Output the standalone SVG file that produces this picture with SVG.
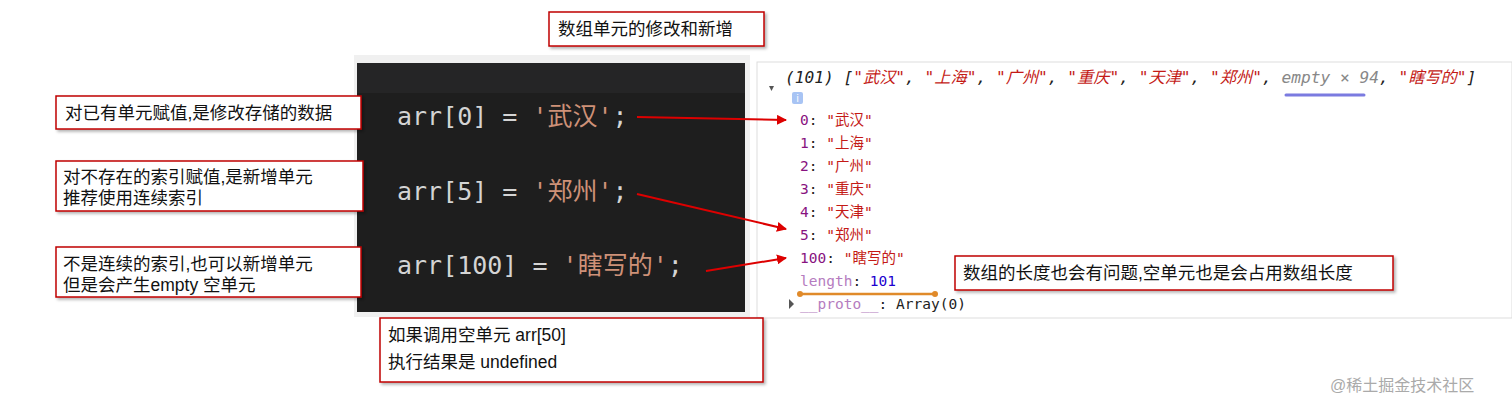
<svg xmlns="http://www.w3.org/2000/svg" width="1512" height="410" viewBox="0 0 1512 410">
<defs>
<style>
.box{fill:#fff;stroke:#c00000;stroke-width:1.5;filter:url(#sh)}
.t{font-family:"Liberation Sans","Noto Sans CJK SC",sans-serif;font-size:17.5px;fill:#111}
.code{font-family:"DejaVu Sans Mono","Noto Sans CJK SC",monospace;font-size:25px;fill:#d4d4d4}
.str{fill:#ce9178}
.con{font-family:"DejaVu Sans Mono","Noto Sans CJK SC",monospace;font-size:14.5px;fill:#222}
.k{fill:#881280}.s{fill:#c41a16}.n{fill:#1c00cf}.g{fill:#888}
.ar{stroke:#d00;stroke-width:2;fill:none;marker-end:url(#ah)}
</style>
<marker id="ah" viewBox="0 0 10 10" refX="9" refY="5" markerWidth="5" markerHeight="5" orient="auto"><path d="M0,0L10,5L0,10z" fill="#d00"/></marker>
<filter id="sh" x="-5%" y="-10%" width="110%" height="130%"><feDropShadow dx="2" dy="2" stdDeviation="1.5" flood-color="#000" flood-opacity="0.3"/></filter>
</defs>
<rect width="1512" height="410" fill="#fff"/>
<g id="code-panel">
<rect x="354" y="55" width="396" height="262" fill="#f0f0f0"/>
<rect x="357" y="63" width="388" height="249" fill="#1e1e1e"/>
<rect x="357" y="63" width="388" height="30" fill="#252526"/>
<text class="code" x="397" y="125">arr[0] = <tspan class="str">'武汉'</tspan>;</text>
<text class="code" x="397" y="200">arr[5] = <tspan class="str">'郑州'</tspan>;</text>
<text class="code" x="397" y="274">arr[100] = <tspan class="str">'瞎写的'</tspan>;</text>
</g>
<g id="console">
<rect x="757" y="62" width="755" height="256" fill="#fff" stroke="#ddd"/>
<path d="M769,86l5,0l-2.5,5z" fill="#555"/>
<text class="con" x="785" y="83" style="font-size:16.2px;font-style:italic">(101) [<tspan class="s">"武汉"</tspan>, <tspan class="s">"上海"</tspan>, <tspan class="s">"广州"</tspan>, <tspan class="s">"重庆"</tspan>, <tspan class="s">"天津"</tspan>, <tspan class="s">"郑州"</tspan>, <tspan class="g">empty × 94</tspan>, <tspan class="s">"瞎写的"</tspan>]</text>
<line x1="1286" y1="95" x2="1364" y2="95" stroke="#7b7be0" stroke-width="3" stroke-linecap="round"/>
<rect x="792" y="92" width="11" height="12" rx="2" fill="#a8c4f4"/>
<text x="797.5" y="102" font-family="Liberation Sans,sans-serif" font-size="10" fill="#fff" text-anchor="middle">i</text>
<text class="con" x="800" y="125"><tspan class="k">0</tspan>: <tspan class="s">"武汉"</tspan></text>
<text class="con" x="800" y="148"><tspan class="k">1</tspan>: <tspan class="s">"上海"</tspan></text>
<text class="con" x="800" y="171"><tspan class="k">2</tspan>: <tspan class="s">"广州"</tspan></text>
<text class="con" x="800" y="194"><tspan class="k">3</tspan>: <tspan class="s">"重庆"</tspan></text>
<text class="con" x="800" y="217"><tspan class="k">4</tspan>: <tspan class="s">"天津"</tspan></text>
<text class="con" x="800" y="240"><tspan class="k">5</tspan>: <tspan class="s">"郑州"</tspan></text>
<text class="con" x="800" y="263"><tspan class="k">100</tspan>: <tspan class="s">"瞎写的"</tspan></text>
<text class="con" x="800" y="286"><tspan fill="#b57cc0">length</tspan>: <tspan class="n">101</tspan></text>
<line x1="800" y1="294" x2="935" y2="294" stroke="#e08a2a" stroke-width="2.5"/>
<circle cx="800" cy="294" r="3" fill="#e08a2a"/><circle cx="935" cy="294" r="3" fill="#e08a2a"/>
<path d="M789,299l0,10l5,-5z" fill="#555"/>
<text class="con" x="800" y="309"><tspan fill="#b57cc0">__proto__</tspan>: Array(0)</text>
</g>
<g id="title"><rect class="box" x="549" y="12" width="215" height="34"/><text class="t" x="558" y="35">数组单元的修改和新增</text></g>
<g id="note1"><rect class="box" x="56" y="96" width="305" height="33"/><text class="t" x="65" y="119">对已有单元赋值,是修改存储的数据</text></g>
<g id="note2"><rect class="box" x="56" y="161" width="307" height="50"/><text class="t" x="63" y="183">对不存在的索引赋值,是新增单元</text><text class="t" x="63" y="204">推荐使用连续索引</text></g>
<g id="note3"><rect class="box" x="56" y="247" width="305" height="50"/><text class="t" x="63" y="270">不是连续的索引,也可以新增单元</text><text class="t" x="63" y="291">但是会产生empty 空单元</text></g>
<g id="note4"><rect class="box" x="380" y="318" width="383" height="64"/><text class="t" x="388" y="341">如果调用空单元 arr[50]</text><text class="t" x="388" y="368">执行结果是 undefined</text></g>
<g id="note5"><rect class="box" x="955" y="256" width="438" height="34"/><text class="t" x="963" y="279">数组的长度也会有问题,空单元也是会占用数组长度</text></g>
<g id="connectors">
<path class="ar" d="M637,117L786,120"/>
<path class="ar" d="M637,194L786,229"/>
<path class="ar" d="M706,271L786,258"/>
</g>
<text x="1330" y="391" font-family="Liberation Sans,Noto Sans CJK SC,sans-serif" font-size="16" fill="#aaa">@稀土掘金技术社区</text>
</svg>
